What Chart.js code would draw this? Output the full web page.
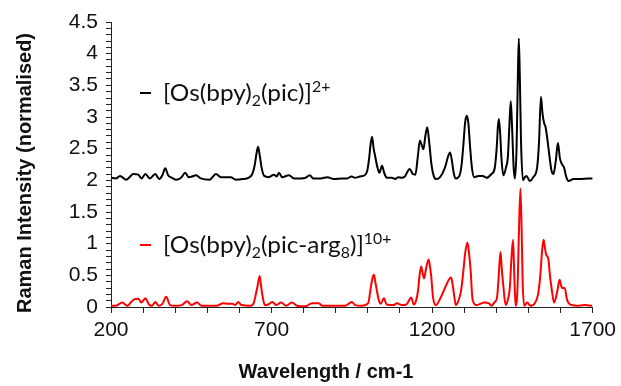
<!DOCTYPE html>
<html>
<head>
<meta charset="utf-8">
<script src="https://cdn.jsdelivr.net/npm/chart.js@4.4.1/dist/chart.umd.min.js"></script>
<style>
  html, body { margin: 0; padding: 0; background: #fff; }
  #wrap { width: 621px; height: 386px; position: relative; }
</style>
</head>
<body>
<div id="wrap"><canvas id="c" width="621" height="386"></canvas></div>
<script>
// ---- Data ----
const xTitle = "Wavelength / cm-1";
const yTitle = "Raman Intensity (normalised)";

const blackWavenumbers = [200,215,228,247,260,269,285,295,307,321,338,350,360,369,378,390,404,420,431,442,452,465,480,507,527,542,560,573,589,610,628,640,648,653,658,663,669,677,692,707,716,723,733,754,770,791,806,819,830,853,874,894,920,935,949,960,975,990,998,1004,1008,1013,1018,1022,1030,1036,1044,1052,1060,1075,1085,1095,1105,1115,1130,1140,1148,1155,1162,1168,1173,1179,1185,1191,1198,1205,1212,1225,1240,1250,1256,1262,1268,1274,1285,1292,1298,1303,1308,1313,1318,1324,1331,1345,1358,1370,1385,1395,1401,1405,1408,1412,1416,1422,1430,1436,1441,1445,1449,1454,1458,1463,1467,1470,1473,1477,1483,1489,1494,1504,1515,1527,1533,1539,1544,1549,1553,1558,1565,1572,1578,1585,1592,1598,1604,1611,1618,1625,1640,1660,1687,1700];
const blackIntensity = [2.04,2.03,2.07,2.01,2.06,2.10,2.09,2.03,2.10,2.03,2.10,2.02,2.08,2.19,2.08,2.04,2.01,2.05,2.12,2.05,2.06,2.08,2.03,2.01,2.10,2.05,2.05,2.05,2.01,2.02,2.04,2.10,2.25,2.42,2.53,2.40,2.20,2.07,2.05,2.09,2.06,2.12,2.05,2.08,2.03,2.03,2.04,2.08,2.03,2.03,2.05,2.02,2.03,2.03,2.06,2.04,2.06,2.08,2.15,2.35,2.55,2.69,2.50,2.40,2.20,2.12,2.23,2.10,2.04,2.04,2.02,2.05,2.04,2.06,2.18,2.10,2.09,2.35,2.63,2.55,2.49,2.70,2.84,2.60,2.25,2.07,2.02,2.05,2.20,2.38,2.44,2.30,2.10,2.03,2.07,2.25,2.60,2.92,3.02,2.90,2.55,2.20,2.05,2.07,2.07,2.04,2.10,2.19,2.50,2.85,2.97,2.75,2.35,2.08,2.20,2.37,2.90,3.25,2.85,2.20,2.03,2.50,3.60,4.24,3.70,2.60,2.00,2.05,2.07,1.99,2.05,2.20,2.60,3.32,3.05,2.90,2.85,2.69,2.40,2.15,2.10,2.30,2.59,2.35,2.26,2.20,2.05,1.99,2.02,2.02,2.03,2.03];

const redWavenumbers = [200,215,235,251,263,272,285,295,307,318,328,338,348,360,372,384,400,420,437,450,468,482,510,530,550,562,578,587,596,606,635,645,651,656,663,667,671,679,690,702,715,730,745,763,780,805,826,847,858,880,904,930,950,960,980,1001,1008,1014,1019,1023,1027,1034,1040,1050,1058,1080,1090,1105,1120,1135,1143,1150,1156,1161,1166,1170,1175,1181,1189,1193,1197,1203,1212,1225,1240,1252,1259,1264,1268,1274,1279,1290,1297,1303,1310,1315,1320,1326,1339,1350,1362,1376,1385,1395,1402,1407,1413,1417,1421,1429,1436,1442,1447,1452,1456,1460,1466,1470,1475,1479,1482,1487,1496,1506,1520,1530,1537,1542,1547,1551,1555,1562,1567,1572,1580,1590,1597,1603,1607,1613,1620,1629,1650,1675,1699];
const redIntensity = [0.02,0.02,0.07,0.02,0.08,0.12,0.13,0.07,0.14,0.04,0.02,0.08,0.02,0.05,0.16,0.03,0.02,0.03,0.09,0.03,0.07,0.02,0.02,0.02,0.06,0.05,0.05,0.03,0.08,0.03,0.02,0.07,0.20,0.32,0.49,0.35,0.20,0.03,0.04,0.08,0.03,0.07,0.02,0.07,0.02,0.01,0.06,0.06,0.02,0.02,0.02,0.02,0.08,0.03,0.02,0.06,0.27,0.45,0.51,0.40,0.29,0.11,0.05,0.14,0.04,0.03,0.06,0.03,0.04,0.15,0.04,0.10,0.25,0.50,0.64,0.55,0.45,0.60,0.75,0.65,0.50,0.15,0.03,0.13,0.30,0.43,0.47,0.35,0.21,0.03,0.06,0.25,0.55,0.85,1.02,0.85,0.58,0.12,0.03,0.05,0.07,0.06,0.02,0.08,0.14,0.45,0.87,0.60,0.38,0.03,0.12,0.30,0.75,1.06,0.50,0.02,0.30,1.10,1.87,1.20,0.40,0.02,0.07,0.02,0.06,0.20,0.50,0.85,1.06,0.95,0.83,0.76,0.50,0.30,0.07,0.25,0.43,0.32,0.30,0.30,0.12,0.04,0.02,0.03,0.02];

const xTickLabels = ["200", "700", "1200", "1700"];
const yTickLabels = ["0", "0.5", "1", "1.5", "2", "2.5", "3", "3.5", "4", "4.5"];

// legend texts as segments: [text, mode] (n = normal, sub, sup)
const blackLegend = [["[Os(bpy)", "n"], ["2", "sub"], ["(pic)]", "n"], ["2+", "sup"]];
const redLegend = [["[Os(bpy)", "n"], ["2", "sub"], ["(pic-arg", "n"], ["8", "sub"], [")]", "n"], ["10+", "sup"]];

// ---- Build ----
function toPoints(xs, ys) { return xs.map((x, i) => ({ x: x, y: ys[i] })); }

const legendFont = "Lato, 'Open Sans', sans-serif";
const legendSize = 23;
const legendStretch = 1.06;
const titleFontCss = "bold 20px 'Liberation Sans', Arial, sans-serif";

function drawRich(ctx, segs, x, baseline, color) {
  ctx.save();
  ctx.translate(x, baseline);
  ctx.scale(legendStretch, 1);
  let cx = 0;
  ctx.fillStyle = color;
  ctx.textBaseline = "alphabetic";
  ctx.textAlign = "left";
  for (const [t, m] of segs) {
    let size = legendSize, dy = 0;
    if (m === "sub") { size = legendSize * 0.65; dy = 5; }
    if (m === "sup") { size = legendSize * 0.65; dy = -9; }
    ctx.font = size + "px " + legendFont;
    ctx.fillText(t, cx, dy);
    cx += ctx.measureText(t).width;
  }
  ctx.restore();
}

const annotationPlugin = {
  id: "richLegendAndTitles",
  afterDraw(chart) {
    const ctx = chart.ctx;
    ctx.save();
    const items = [
      { segs: blackLegend, color: "#000000", lineY: 93, base: 101 },
      { segs: redLegend, color: "#ff0000", lineY: 245, base: 253 }
    ];
    for (const it of items) {
      ctx.strokeStyle = it.color;
      ctx.lineWidth = 2;
      ctx.beginPath();
      ctx.moveTo(140, it.lineY);
      ctx.lineTo(151, it.lineY);
      ctx.stroke();
      drawRich(ctx, it.segs, 163, it.base, "#111111");
    }
    // axis titles
    ctx.fillStyle = "#111111";
    ctx.font = titleFontCss;
    ctx.textAlign = "center";
    ctx.textBaseline = "middle";
    ctx.fillText(xTitle, 326, 372);
    ctx.translate(25, 173);
    ctx.rotate(-Math.PI / 2);
    ctx.fillText(yTitle, 0, 0);
    ctx.restore();
  }
};

const tickFont = { family: "'Liberation Sans', Arial, sans-serif", size: 21 };

new Chart(document.getElementById("c"), {
  type: "line",
  data: {
    datasets: [
      { label: "black", data: toPoints(blackWavenumbers, blackIntensity), borderColor: "#000000", borderWidth: 2, pointRadius: 0, cubicInterpolationMode: "monotone", fill: false },
      { label: "red", data: toPoints(redWavenumbers, redIntensity), borderColor: "#ff0000", borderWidth: 2, pointRadius: 0, cubicInterpolationMode: "monotone", fill: false }
    ]
  },
  options: {
    responsive: false,
    animation: false,
    events: [],
    layout: { padding: { top: 22, right: 25, left: 0, bottom: 0 } },
    plugins: { legend: { display: false }, tooltip: { enabled: false } },
    scales: {
      x: {
        type: "linear",
        min: 200, max: 1700,
        afterFit(s) { s.height = 79; },
        ticks: {
          stepSize: 100, autoSkip: false, maxRotation: 0, padding: 5,
          color: "#111", font: tickFont,
          callback(v) { const s = String(Math.round(v)); return xTickLabels.includes(s) ? s : ""; }
        },
        grid: { drawOnChartArea: false, drawTicks: true, tickLength: 6, tickColor: "#222", tickWidth: 1 },
        border: { display: true, color: "#222", width: 1 },
        title: { display: false }
      },
      y: {
        min: 0, max: 4.5,
        afterFit(s) { s.width = 111; },
        ticks: {
          stepSize: 0.1, autoSkip: false, padding: 8,
          color: "#111", font: tickFont,
          callback(v) { const s = String(Math.round(v * 10) / 10); return (yTickLabels.includes(s) && Math.abs(v * 2 - Math.round(v * 2)) < 1e-6) ? s : ""; }
        },
        grid: { drawOnChartArea: false, drawTicks: true, tickLength: 5, tickColor: "#222", tickWidth: 1 },
        border: { display: true, color: "#222", width: 1 },
        title: { display: false }
      }
    }
  },
  plugins: [annotationPlugin]
});
</script>
</body>
</html>
